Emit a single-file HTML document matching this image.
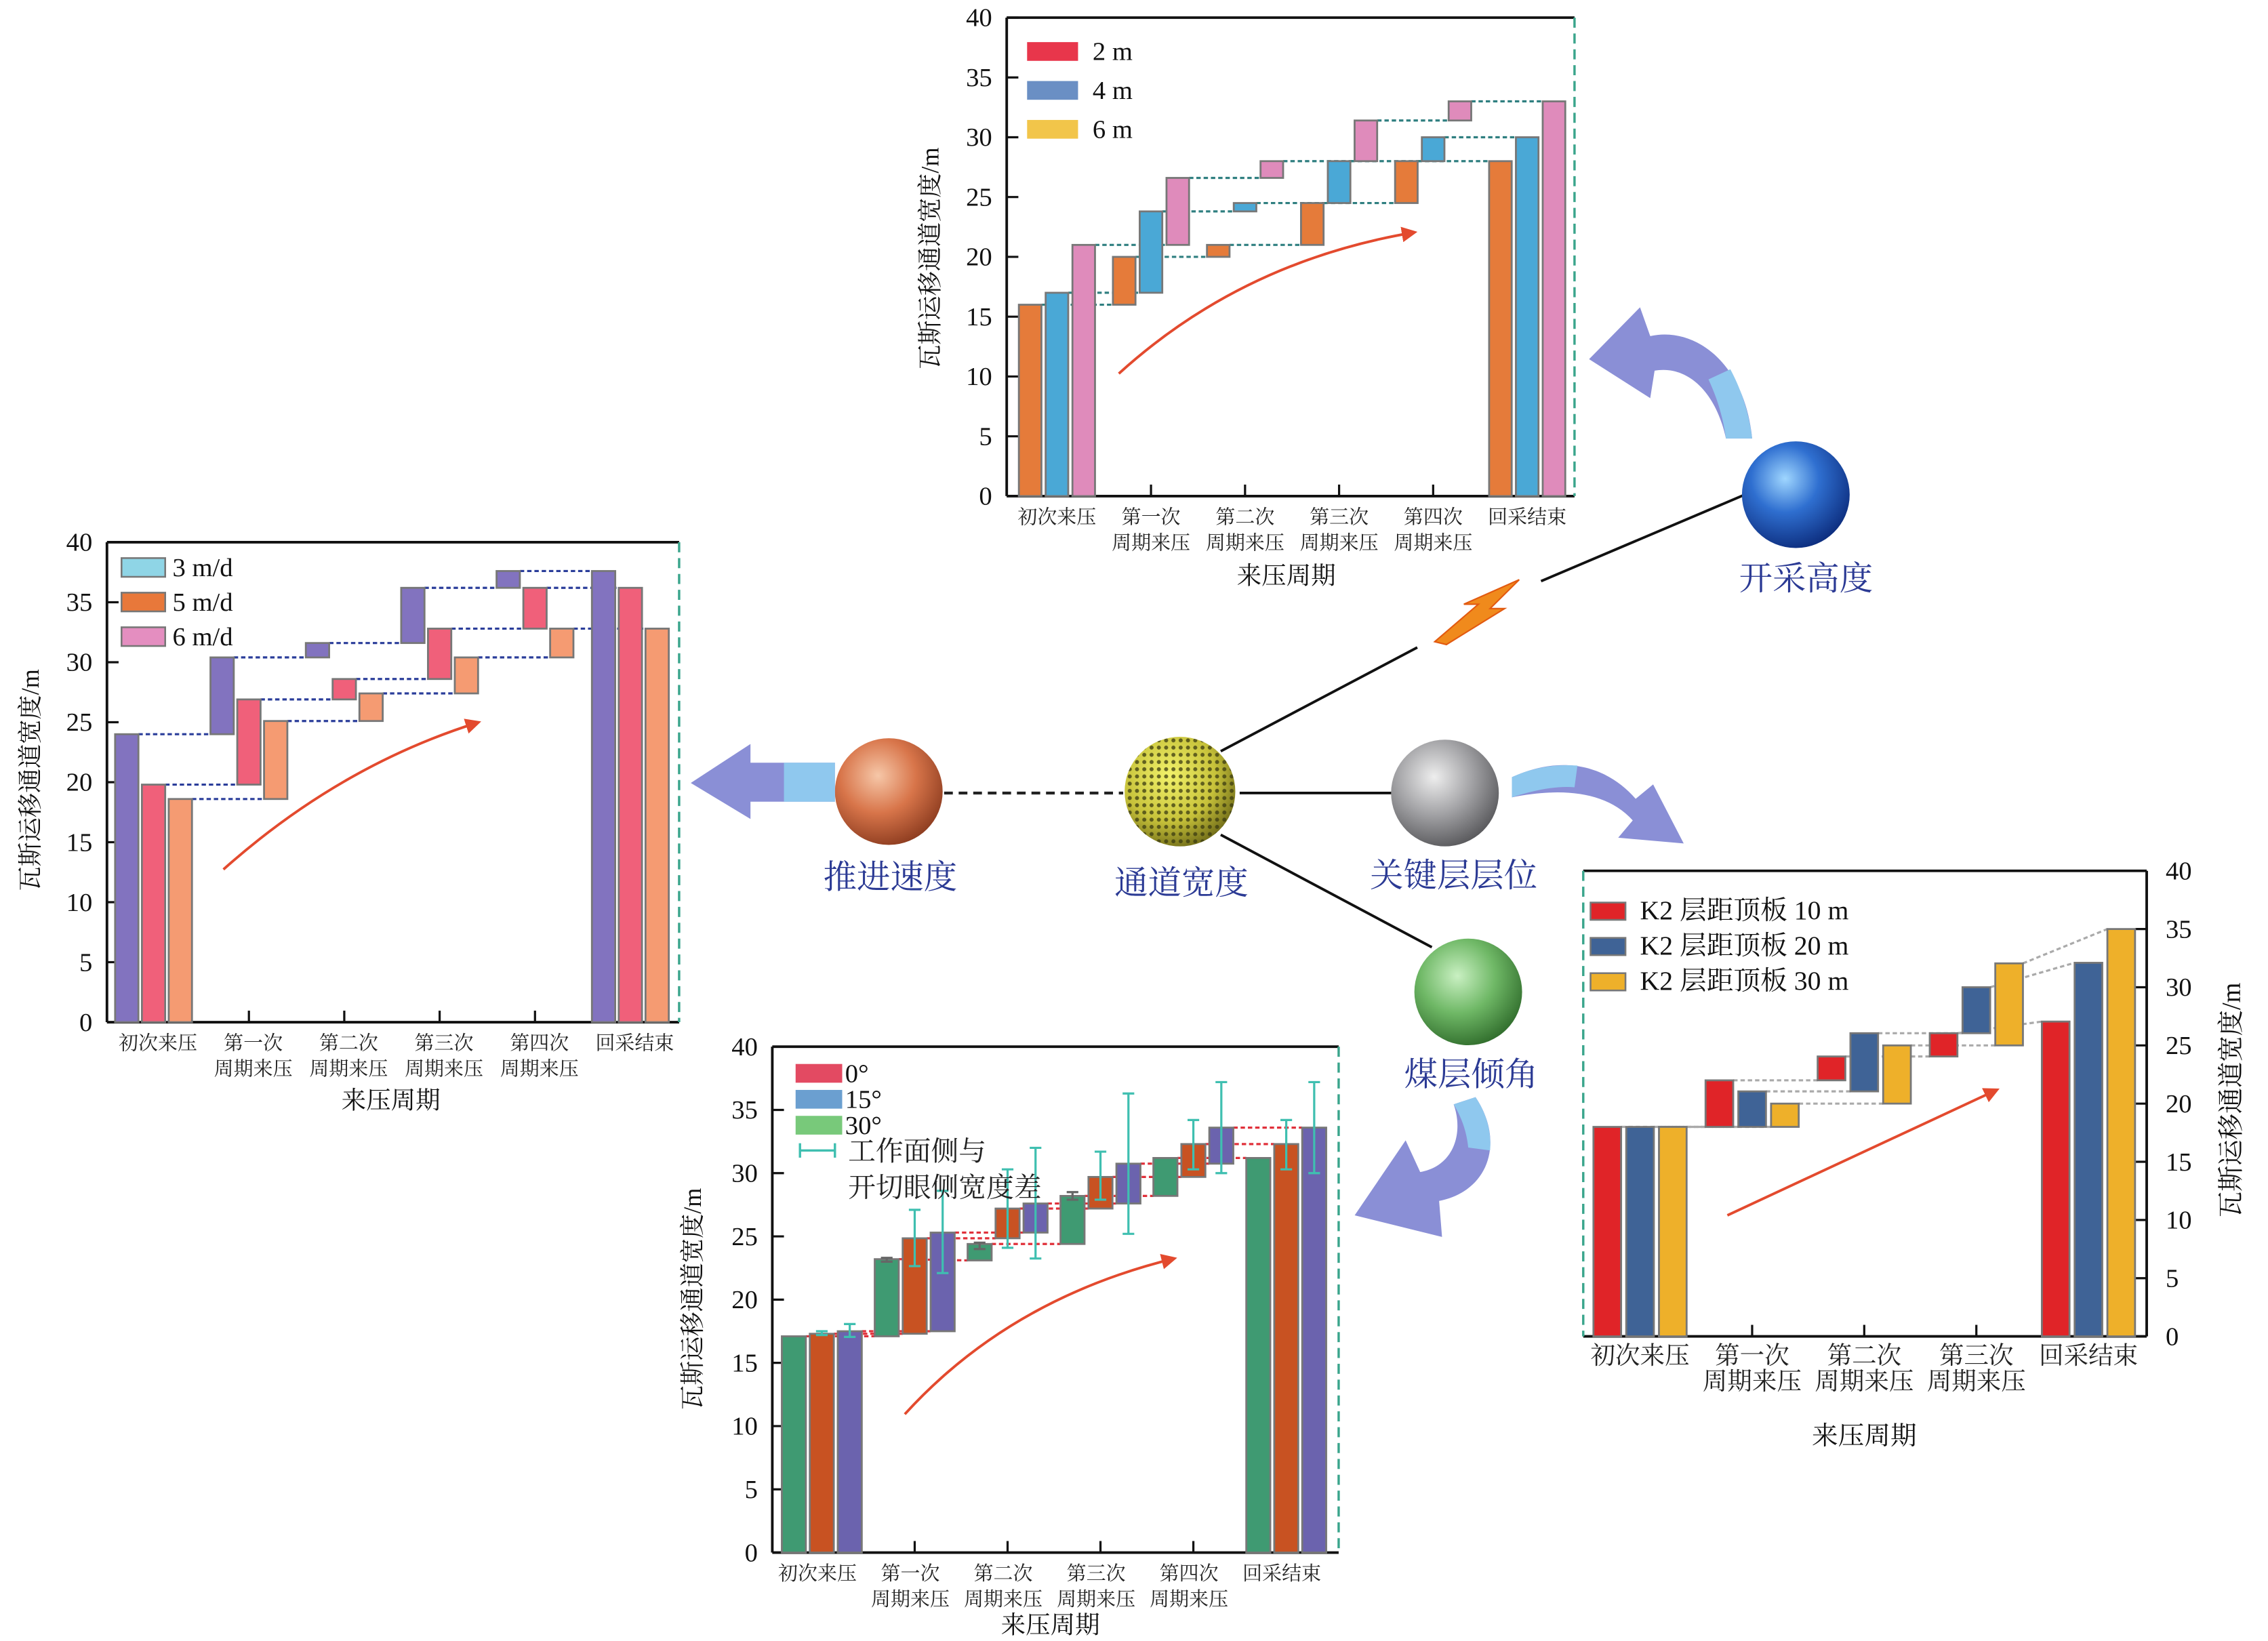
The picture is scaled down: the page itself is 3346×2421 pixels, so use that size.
<!DOCTYPE html>
<html><head><meta charset="utf-8">
<style>
html,body{margin:0;padding:0;background:#fff;}
svg{display:block;}
text{font-family:"Liberation Serif","Noto Serif CJK SC",serif;}
</style></head>
<body>
<svg id="root" xmlns="http://www.w3.org/2000/svg" width="3346" height="2421" viewBox="0 0 1550 1121.5">
<defs>
<radialGradient id="gBlue" cx="0.4" cy="0.35" r="0.7"><stop offset="0" stop-color="#9fd6ff"/><stop offset="0.45" stop-color="#2f6fd0"/><stop offset="1" stop-color="#0b2a7a"/></radialGradient>
<radialGradient id="gOrange" cx="0.4" cy="0.35" r="0.7"><stop offset="0" stop-color="#f6c7a8"/><stop offset="0.5" stop-color="#d8754a"/><stop offset="1" stop-color="#8a3a1e"/></radialGradient>
<radialGradient id="gGray" cx="0.4" cy="0.35" r="0.7"><stop offset="0" stop-color="#eeeeee"/><stop offset="0.5" stop-color="#a3a3a6"/><stop offset="1" stop-color="#555558"/></radialGradient>
<radialGradient id="gGreen" cx="0.4" cy="0.35" r="0.7"><stop offset="0" stop-color="#c9f0c2"/><stop offset="0.5" stop-color="#6fb866"/><stop offset="1" stop-color="#2e6a2a"/></radialGradient>
<radialGradient id="gMesh" cx="0.4" cy="0.35" r="0.7"><stop offset="0" stop-color="#f2f26a"/><stop offset="0.6" stop-color="#c7c23a"/><stop offset="1" stop-color="#6e6a18"/></radialGradient>
<pattern id="pMesh" width="5" height="5" patternUnits="userSpaceOnUse"><circle cx="2.5" cy="2.5" r="1.4" fill="#3a3a10" opacity="0.75"/></pattern>
<marker id="arrRed" viewBox="0 0 10 10" refX="8" refY="5" markerWidth="6" markerHeight="6" orient="auto"><path d="M0,0 L10,5 L0,10 z" fill="#e34a2e"/></marker>
</defs>
<g transform="matrix(0.995,0,0,0.985,-6.5,1.2)">
<g id="charts"></g>
<g id="diagram">
  <line x1="655" y1="549" x2="778" y2="549" stroke="#222" stroke-width="2" stroke-dasharray="6,4"/>
  <line x1="858" y1="549" x2="963" y2="549" stroke="#111" stroke-width="1.8"/>
  <line x1="845" y1="520" x2="980" y2="448" stroke="#111" stroke-width="1.8"/>
  <line x1="1065" y1="402" x2="1205" y2="342" stroke="#111" stroke-width="1.8"/>
  <line x1="845" y1="578" x2="990" y2="656" stroke="#111" stroke-width="1.8"/>
  <polygon points="992,444 1022,418 1012,418 1050,401 1030,421 1040,421 1000,446" fill="#f08a1c" stroke="#e25a10" stroke-width="1"/>
  <circle cx="817" cy="548" r="38" fill="url(#gMesh)"/>
  <circle cx="817" cy="548" r="38" fill="url(#pMesh)"/>
  <circle cx="617" cy="548" r="37" fill="url(#gOrange)"/>
  <circle cx="999" cy="549" r="37" fill="url(#gGray)"/>
  <circle cx="1015" cy="687" r="37" fill="url(#gGreen)"/>
  <circle cx="1240" cy="342" r="37" fill="url(#gBlue)"/>
  <g fill="#2b3a94" font-size="23" text-anchor="middle">
    <text x="618" y="615">推进速度</text>
    <text x="818" y="619">通道宽度</text>
    <text x="1005" y="614">关键层层位</text>
    <text x="1017" y="752">煤层倾角</text>
    <text x="1247" y="408">开采高度</text>
  </g>
  <path d="M580,528 L522,528 L522,515 L481,542 L522,567 L522,555 L580,555 z" fill="#8a8fd6"/>
  <path d="M580,528 L545,528 L545,555 L580,555 z" fill="#8fc8ee"/>
  <path d="M1210,303 C1205,250 1170,225 1140,232 L1133,212 L1098,248 L1140,275 L1143,256 C1165,252 1185,270 1192,303 z" fill="#8a8fd6"/>
  <path d="M1210,303 C1208,285 1202,268 1195,255 L1180,262 C1186,275 1190,288 1192,303 z" fill="#8fc8ee"/>
  <path d="M1045,538 C1080,522 1110,530 1130,553 L1142,543 L1163,584 L1118,580 L1128,568 C1110,548 1080,545 1045,552 z" fill="#8a8fd6"/>
  <path d="M1045,538 C1060,531 1075,529 1090,530 L1088,545 C1075,544 1060,547 1045,552 z" fill="#8fc8ee"/>
  <path d="M1020,760 C1040,790 1030,825 995,832 L997,857 L937,842 L972,790 L982,812 C1005,808 1012,785 1005,765 z" fill="#8a8fd6"/>
  <path d="M1020,760 C1028,772 1031,785 1030,797 L1015,795 C1014,785 1011,775 1005,765 z" fill="#8fc8ee"/>
</g>
</g>
</svg>
<script>
// ===== Chart A: mining height (top) =====
const catsA = [["初次来压"],["第一次","周期来压"],["第二次","周期来压"],["第三次","周期来压"],["第四次","周期来压"],["回采结束"]];
const legendA = ["2 m","4 m","6 m"];
const lowA1 = [0,16,20,21,24.5,0];
const highA1 = [16,20,21,24.5,28,28];
const lowA2 = [0,17,23.8,24.5,28,0];
const highA2 = [17,23.8,24.5,28,30,30];
const lowA3 = [0,21,26.6,28,31.4,0];
const highA3 = [21,26.6,28,31.4,33,33];
const ticksY = [0,5,10,15,20,25,30,35,40];

// ===== Chart B: advance speed (left) =====
const catsB = catsA;
const legendB = ["3 m/d","5 m/d","6 m/d"];
const lowB1 = [0,24,30.4,31.6,36.2,0];
const highB1 = [24,30.4,31.6,36.2,37.6,37.6];
const lowB2 = [0,19.8,26.9,28.6,32.8,0];
const highB2 = [19.8,26.9,28.6,32.8,36.2,36.2];
const lowB3 = [0,18.6,25.1,27.4,30.4,0];
const highB3 = [18.6,25.1,27.4,30.4,32.8,32.8];

// ===== Chart C: dip angle (bottom) =====
const catsC = catsA;
const legendC = ["0°","15°","30°"];
const lowC1 = [0,17.1,23.1,24.4,28.2,0];
const highC1 = [17.1,23.2,24.4,28.2,31.2,31.2];
const lowC2 = [0,17.3,24.85,27.2,29.7,0];
const highC2 = [17.3,24.85,27.2,29.7,32.3,32.3];
const lowC3 = [0,17.5,25.3,27.6,30.75,0];
const highC3 = [17.5,25.3,27.6,30.75,33.6,33.6];
const errLoC1 = [null,23.0,24.0,27.9,null,null];
const errHiC1 = [null,23.3,24.5,28.5,null,null];
const errLoC2 = [17.2,22.65,24.1,27.9,30.3,30.3];
const errHiC2 = [17.5,27.1,30.3,31.7,34.2,34.2];
const errLoC3 = [17.05,22.1,23.25,25.2,30.0,30.0];
const errHiC3 = [18.07,28.6,32.0,36.3,37.2,37.2];

// ===== Chart D: key layer (right) =====
const catsD = [["初次来压"],["第一次","周期来压"],["第二次","周期来压"],["第三次","周期来压"],["回采结束"]];
const legendD = ["K2 层距顶板 10 m","K2 层距顶板 20 m","K2 层距顶板 30 m"];
const lowD1 = [0,18,22,24.05,0];
const highD1 = [18,22,24.05,26.05,27.05];
const lowD2 = [0,18,21.05,26.05,0];
const highD2 = [18,21.05,26.05,30.0,32.1];
const lowD3 = [0,18,20,25,0];
const highD3 = [18,20,25,32.05,35];

const NS = "http://www.w3.org/2000/svg";
const root = document.getElementById('charts');
function mk(tag, attrs, parent, txt){
  const e = document.createElementNS(NS, tag);
  for (const k in attrs) e.setAttribute(k, attrs[k]);
  if (txt !== undefined) e.textContent = txt;
  parent.appendChild(e);
  return e;
}

function drawChart(c){
  const g = mk('g', {}, root);
  
  
  const ys = v => c.y0 - v*(c.y0 - c.y40)/40;
  const cx = (i,s) => c.cx0 + i*c.step + (s-1)*c.pitch;
  const top = mk('line', {x1:c.x0, y1:ys(40), x2:c.x1, y2:ys(40), stroke:'#111', 'stroke-width':1.8}, g);
  
  
  const bot = mk('line', {x1:c.x0, y1:c.y0, x2:c.x1, y2:c.y0, stroke:'#111', 'stroke-width':1.8}, g);
  
  
  const axX = c.axisRight ? c.x1 : c.x0;
  const dashX = c.axisRight ? c.x0 : c.x1;
  const ax = mk('line', {x1:axX, y1:ys(40), x2:axX, y2:c.y0, stroke:'#111', 'stroke-width':1.8}, g);
  
  
  const dl = mk('line', {x1:dashX, y1:ys(40), x2:dashX, y2:c.y0, stroke:'#3aa58c', 'stroke-width':1.6, 'stroke-dasharray':'7,4'}, g);
  
  
  ticksY.forEach(t => {
    const y = ys(t);
    const dir = c.axisRight ? -1 : 1;
    mk('line', {x1:axX, y1:y, x2:axX+dir*8, y2:y, stroke:'#111', 'stroke-width':1.5}, g);
    const tx = mk('text', {x: c.axisRight ? axX+13 : axX-10, y:y+6, 'font-size':18, 'text-anchor': c.axisRight ? 'start' : 'end', fill:'#111'}, g, String(t));
    
    
  });
  c.cats.forEach((lab, i) => {
    const x = cx(i,1);
    mk('line', {x1:x, y1:c.y0, x2:x, y2:c.y0-8, stroke:'#111', 'stroke-width':1.5}, g);
    lab.forEach((ln, k) => {
      const t = mk('text', {x:x+c.labOff, y:c.y0+19+k*18, 'font-size':c.xfs, 'text-anchor':'middle', fill:'#222'}, g, ln);
      
      
    });
  });
  const xt = mk('text', {x:c.xtX, y:c.xtY, 'font-size':c.titleFs, 'text-anchor':'middle', fill:'#111'}, g, '来压周期');
  
  
  const yt = mk('text', {x:0, y:0, 'font-size':c.titleFs, 'text-anchor':'middle', fill:'#111', transform:`translate(${c.ytX},${c.ytY}) rotate(-90)`}, g, '瓦斯运移通道宽度/m');
  
  
  c.series.forEach((s, si) => {
    for (let i = 0; i < s.low.length-1; i++) {
      const xa = cx(i,si) + c.barW/2, xb = cx(i+1,si) - c.barW/2;
      const target = s.low[i+1] > 0 ? s.low[i+1] : s.high[i+1];
      const ln = mk('line', {x1:xa, y1:ys(s.high[i]), x2:xb, y2:ys(target), stroke:c.connColor, 'stroke-width':1.5, 'stroke-dasharray':'3,2'}, g);
      
      
    }
  });
  c.series.forEach((s, si) => {
    s.low.forEach((lo, i) => {
      const hi = s.high[i];
      const r = mk('rect', {x:cx(i,si)-c.barW/2, y:ys(hi), width:c.barW, height:Math.max(ys(lo)-ys(hi),0.5), fill:s.color, stroke:'#777', 'stroke-width':1.3}, g);
      
      
    });
    if (s.errLo) {
      s.errLo.forEach((el, i) => {
        if (el === null) return;
        const x = cx(i,si), ya = ys(el), yb = ys(s.errHi[i]);
        const eg = mk('g', {stroke: s.errColor, 'stroke-width':1.5}, g);
        
        
        mk('line', {x1:x, y1:ya, x2:x, y2:yb}, eg);
        mk('line', {x1:x-4, y1:ya, x2:x+4, y2:ya}, eg);
        mk('line', {x1:x-4, y1:yb, x2:x+4, y2:yb}, eg);
      });
    }
  });
  c.legend.forEach((name, k) => {
    const lg = mk('g', {}, g);
    
    
    mk('rect', {x:c.lgX, y:c.lgY + k*c.lgStep, width:c.lgW, height:c.lgH, fill:c.lgColors[k], stroke:c.lgStroke, 'stroke-width':1.2}, lg);
    mk('text', {x:c.lgX+c.lgW+c.lgGap, y:c.lgY + k*c.lgStep + c.lgH - 0.5, 'font-size':c.lgFs, fill:'#111'}, lg, name);
  });
  const ar = mk('path', {d:c.arrow, fill:'none', stroke:'#e34a2e', 'stroke-width':1.8, 'marker-end':'url(#arrRed)'}, g);
  
  
  return g;
}

drawChart({name:'chart-mining-height', x0:698, x1:1088, y0:343, y40:11, cx0:732.5, step:64.6, pitch:18.4, barW:15.5,
  cats:catsA, labOff:0, xfs:13.5, xtX:890, xtY:404, titleFs:17, ytX:651, ytY:178, axisRight:false, connColor:'#2f7f80',
  series:[{key:'2m',color:'#e57b3a',low:lowA1,high:highA1},{key:'4m',color:'#4aa8d6',low:lowA2,high:highA2},{key:'6m',color:'#df8bbb',low:lowA3,high:highA3}],
  legend:legendA, lgColors:['#e8364b','#6a8fc4','#f2c54a'], lgStroke:'none', lgX:712, lgY:28, lgW:35, lgH:13, lgStep:27, lgGap:10, lgFs:18,
  arrow:'M775,258 Q860,180 978,160'});

drawChart({name:'chart-advance-speed', x0:80, x1:473, y0:708, y40:375, cx0:112, step:65.5, pitch:18.4, barW:16,
  cats:catsB, labOff:3, xfs:13.5, xtX:275, xtY:768, titleFs:17, ytX:33, ytY:540, axisRight:false, connColor:'#2a3d9a',
  series:[{key:'3md',color:'#8273bf',low:lowB1,high:highB1},{key:'5md',color:'#f0607a',low:lowB2,high:highB2},{key:'6md',color:'#f59b72',low:lowB3,high:highB3}],
  legend:legendB, lgColors:['#8fd5e6','#e8783a','#e48ec0'], lgStroke:'#777', lgX:90, lgY:386, lgW:30, lgH:13, lgStep:24, lgGap:5, lgFs:18,
  arrow:'M160,602 Q240,530 335,500'});

drawChart({name:'chart-dip-angle', x0:537, x1:926, y0:1076, y40:725, cx0:571, step:63.8, pitch:19.2, barW:16.5,
  cats:catsC, labOff:-3, xfs:13.5, xtX:728, xtY:1132, titleFs:17, ytX:488, ytY:900, axisRight:false, connColor:'#e0303a',
  series:[{key:'30deg',color:'#3f9a72',low:lowC1,high:highC1,errLo:errLoC1,errHi:errHiC1,errColor:'#666'},
          {key:'0deg',color:'#c85222',low:lowC2,high:highC2,errLo:errLoC2,errHi:errHiC2,errColor:'#3fbfb0'},
          {key:'15deg',color:'#6b63ae',low:lowC3,high:highC3,errLo:errLoC3,errHi:errHiC3,errColor:'#3fbfb0'}],
  legend:legendC, lgColors:['#e34a62','#6b9fd0','#78c97a'], lgStroke:'none', lgX:553, lgY:737, lgW:32, lgH:13, lgStep:18, lgGap:2, lgFs:18,
  arrow:'M628,980 Q700,900 813,872'});

drawChart({name:'chart-key-layer', x0:1094, x1:1481, y0:926, y40:603, cx0:1133, step:77, pitch:22.5, barW:19,
  cats:catsD, labOff:0, xfs:17, xtX:1287, xtY:1001, titleFs:18, ytX:1545, ytY:762, axisRight:true, connColor:'#aaaaaa',
  series:[{key:'10m',color:'#e02428',low:lowD1,high:highD1},{key:'20m',color:'#3f6396',low:lowD2,high:highD2},{key:'30m',color:'#eeb02a',low:lowD3,high:highD3}],
  legend:legendD, lgColors:['#e02428','#3f6396','#eeb02a'], lgStroke:'#777', lgX:1099, lgY:625, lgW:24, lgH:12, lgStep:24.5, lgGap:10, lgFs:18.5,
  arrow:'M1193,842 L1378,755'});

const eLeg = mk('g', {stroke:'#3fbfb0','stroke-width':1.6}, root);


mk('line', {x1:556, y1:797, x2:580, y2:797}, eLeg);
mk('line', {x1:556, y1:792, x2:556, y2:802}, eLeg);
mk('line', {x1:580, y1:792, x2:580, y2:802}, eLeg);
const t1 = mk('text', {x:589, y:804, 'font-size':19, fill:'#222'}, root, '工作面侧与');


const t2 = mk('text', {x:589, y:829, 'font-size':19, fill:'#222'}, root, '开切眼侧宽度差');


</script>
</body></html>
